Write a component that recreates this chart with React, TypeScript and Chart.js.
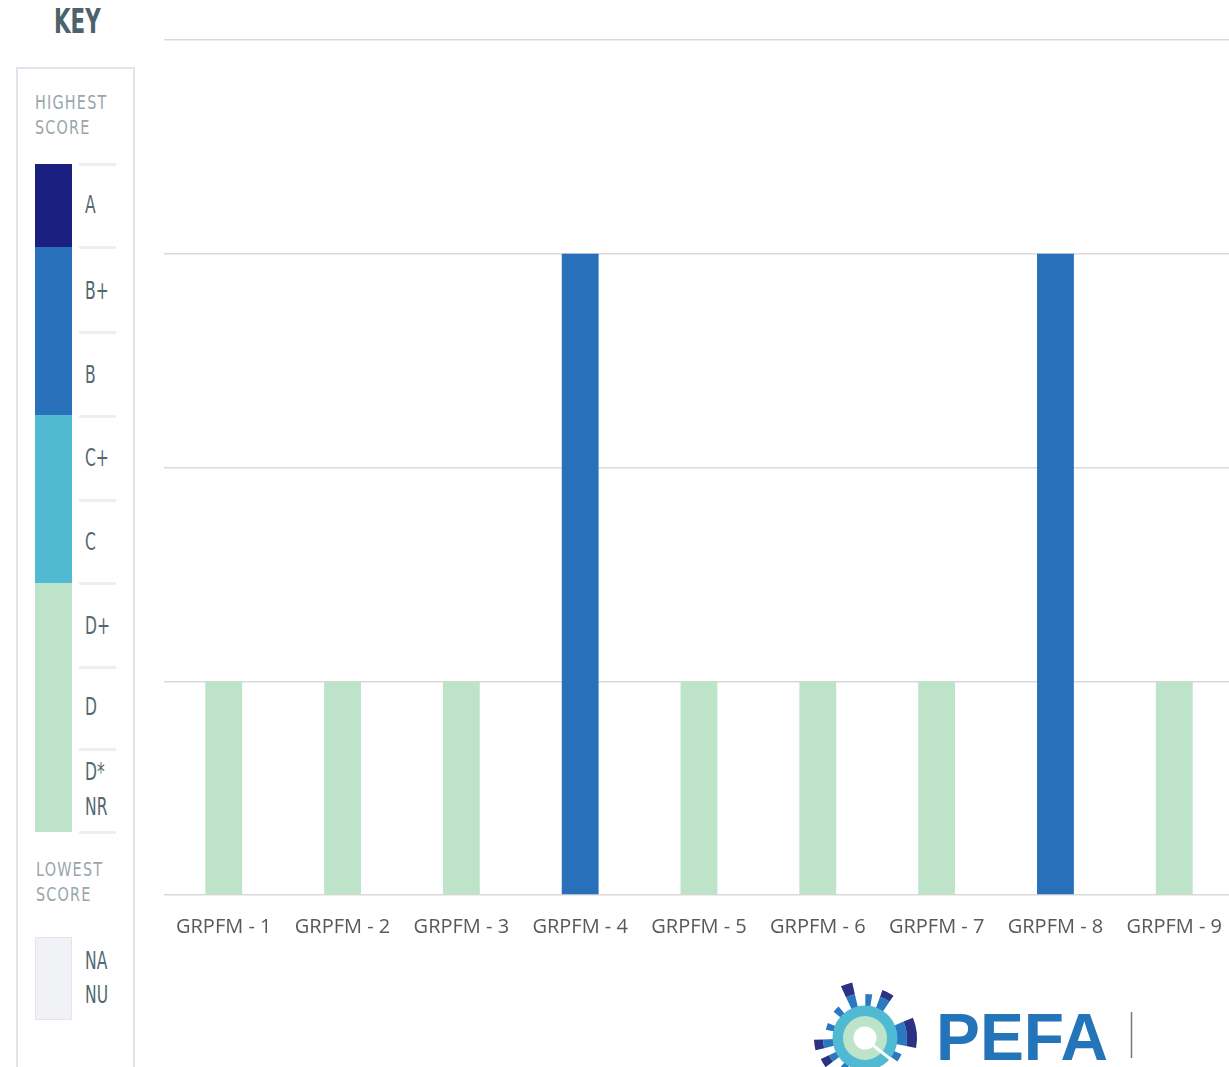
import React, { useEffect, useRef } from "react";
import { Chart, registerables } from "chart.js";

Chart.register(...registerables);

const categories = ["GRPFM - 1", "GRPFM - 2", "GRPFM - 3", "GRPFM - 4", "GRPFM - 5", "GRPFM - 6", "GRPFM - 7", "GRPFM - 8", "GRPFM - 9"];
// score scale: 1 = D, 2 = C, 3 = B, 4 = A
const scores = [1, 1, 1, 3, 1, 1, 1, 3, 1];
const scoreColors: Record<number, string> = { 1: "#bde3c8", 2: "#4fbad2", 3: "#2870b9", 4: "#1b2080" };
const yTicks = [0, 1, 2, 3, 4];

const keyLabels = [
  { t: "A", y: 205 },
  { t: "B+", y: 291 },
  { t: "B", y: 375 },
  { t: "C+", y: 458 },
  { t: "C", y: 542 },
  { t: "D+", y: 626 },
  { t: "D", y: 707 },
  { t: "D*", y: 772 },
  { t: "NR", y: 807 },
];
const keyLines = [164, 247, 332, 416, 500, 583, 667, 749, 832];
const keySegments = [
  { top: 164, bottom: 247, color: "#1b2080" },
  { top: 247, bottom: 415, color: "#2870b9" },
  { top: 415, bottom: 583, color: "#4fbad2" },
  { top: 583, bottom: 832, color: "#bde3c8" },
];

function CText(props: { x: number; y: number; size: number; color: string; bold?: boolean; sx?: number; ls?: number; children: React.ReactNode }) {
  const { x, y, size, color, bold, sx = 0.8, ls = 0 } = props;
  return (
    <div
      style={{
        position: "absolute",
        left: x,
        top: y,
        fontFamily: "'DejaVu Sans Condensed', 'DejaVu Sans', sans-serif",
        fontSize: size,
        fontWeight: bold ? 700 : 400,
        color,
        letterSpacing: ls,
        lineHeight: 1,
        whiteSpace: "nowrap",
        transform: `scaleX(${sx})`,
        transformOrigin: "left top",
      }}
    >
      {props.children}
    </div>
  );
}

function sector(cx: number, cy: number, r1: number, r2: number, a1: number, a2: number) {
  const rad = (a: number) => (a * Math.PI) / 180;
  const p = (r: number, a: number) => [cx + r * Math.cos(rad(a)), cy - r * Math.sin(rad(a))];
  const [x1, y1] = p(r2, a1);
  const [x2, y2] = p(r2, a2);
  const [x3, y3] = p(r1, a2);
  const [x4, y4] = p(r1, a1);
  const large = Math.abs(a2 - a1) > 180 ? 1 : 0;
  return `M${x1},${y1} A${r2},${r2} 0 ${large} 0 ${x2},${y2} L${x3},${y3} A${r1},${r1} 0 ${large} 1 ${x4},${y4} Z`;
}

const rays = [
  { a: 109, w: 12, mid: 45, out: 57 },
  { a: 85, w: 9, mid: 44, out: 44 },
  { a: 63, w: 14, mid: 44, out: 51 },
  { a: 6, w: 34, mid: 42, out: 52 },
  { a: -30, w: 12, mid: 40, out: 40 },
  { a: 188, w: 12, mid: 42, out: 51 },
  { a: 163, w: 10, mid: 40, out: 40 },
  { a: 135, w: 10, mid: 41, out: 41 },
  { a: 211, w: 11, mid: 40, out: 49 },
  { a: 235, w: 10, mid: 40, out: 40 },
  { a: 262, w: 10, mid: 42, out: 50 },
];

function Logo() {
  const cx = 865;
  const cy = 1038;
  return (
    <svg width={1229} height={1067} style={{ position: "absolute", left: 0, top: 0, pointerEvents: "none" }}>
      {rays.map((r, i) => (
        <g key={i}>
          <path d={sector(cx, cy, 30, r.mid, r.a - r.w / 2, r.a + r.w / 2)} fill="#2a78c0" />
          {r.out > r.mid && <path d={sector(cx, cy, r.mid, r.out, r.a - r.w / 2, r.a + r.w / 2)} fill="#2b3183" />}
        </g>
      ))}
      <circle cx={cx} cy={cy} r={32.5} fill="#4fbad2" />
      <circle cx={cx} cy={cy} r={22} fill="#bde3c8" />
      <circle cx={cx} cy={cy} r={11.5} fill="#ffffff" />
      <line x1={cx + 5} y1={cy + 5} x2={cx + 42} y2={cy + 34} stroke="#ffffff" strokeWidth={3} />
      <line x1={cx - 20} y1={cy - 27} x2={cx - 36} y2={cy - 48} stroke="#ffffff" strokeWidth={3} />
      <text x={936} y={1060} fill="#2474b9" fontFamily="'Liberation Sans', Arial, sans-serif" fontWeight={700} fontSize={66} textLength={172} lengthAdjust="spacingAndGlyphs">
        PEFA
      </text>
      <line x1={1131.5} y1={1012} x2={1131.5} y2={1058} stroke="#777" strokeWidth={1.5} />
    </svg>
  );
}

function Key() {
  return (
    <>
      <CText x={54} y={5} size={33} color="#4d626b" bold sx={0.72}>KEY</CText>
      <div style={{ position: "absolute", left: 16, top: 67, width: 119, height: 1100, border: "2px solid #e1e4ea", boxSizing: "border-box" }} />
      <CText x={35} y={92} size={20} color="#9aa6ac" sx={0.8} ls={1.5}>HIGHEST</CText>
      <CText x={35} y={117} size={20} color="#9aa6ac" sx={0.8} ls={1.5}>SCORE</CText>
      {keySegments.map((s, i) => (
        <div key={i} style={{ position: "absolute", left: 35, top: s.top, width: 37, height: s.bottom - s.top, background: s.color }} />
      ))}
      {keyLines.map((y, i) => (
        <div key={i} style={{ position: "absolute", left: 79, top: y - 1, width: 37, height: 3, background: "#eceef2" }} />
      ))}
      {keyLabels.map((l, i) => (
        <CText key={i} x={85} y={l.y - 12} size={24} color="#55686f" sx={0.72}>{l.t}</CText>
      ))}
      <CText x={36} y={859} size={20} color="#9aa6ac" sx={0.8} ls={1.5}>LOWEST</CText>
      <CText x={36} y={884} size={20} color="#9aa6ac" sx={0.8} ls={1.5}>SCORE</CText>
      <div style={{ position: "absolute", left: 35, top: 937, width: 37, height: 83, background: "#f1f2f6", border: "1px solid #e3e5ea", boxSizing: "border-box" }} />
      <CText x={85} y={949} size={24} color="#55686f" sx={0.72}>NA</CText>
      <CText x={85} y={983} size={24} color="#55686f" sx={0.72}>NU</CText>
    </>
  );
}

export default function App() {
  const ref = useRef<HTMLCanvasElement | null>(null);
  useEffect(() => {
    if (!ref.current) return;
    const chart = new Chart(ref.current, {
      type: "bar",
      data: {
        labels: categories,
        datasets: [
          {
            data: scores,
            backgroundColor: scores.map((s) => scoreColors[s]),
            borderWidth: 0,
            barPercentage: 0.62,
            categoryPercentage: 0.5,
          },
        ],
      },
      options: {
        animation: false,
        responsive: false,
        maintainAspectRatio: false,
        layout: { padding: { top: 40, left: 0, right: 0, bottom: 0 } },
        plugins: { legend: { display: false }, tooltip: { enabled: false } },
        scales: {
          x: {
            grid: { display: false },
            border: { display: false },
            ticks: {
              color: "#595959",
              font: { family: "'Open Sans', sans-serif", size: 20 },
              padding: 12,
              maxRotation: 0,
              autoSkip: false,
            },
            afterFit: (s: any) => {
              s.height = 65;
            },
          },
          y: {
            min: 0,
            max: 4,
            afterBuildTicks: (s: any) => {
              s.ticks = yTicks.map((v) => ({ value: v }));
            },
            grid: { color: "#d9d9d9", lineWidth: 1.5, drawTicks: false },
            border: { display: false },
            ticks: { display: false },
            afterFit: (s: any) => {
              s.width = 0;
            },
          },
        },
      },
    });
    return () => chart.destroy();
  }, []);

  return (
    <div style={{ position: "absolute", left: 0, top: 0, width: 1229, height: 1067, overflow: "hidden", background: "#fff" }}>
      <Key />
      <canvas ref={ref} width={1070} height={960} style={{ position: "absolute", left: 164, top: 0, width: 1070, height: 960 }} />
      <Logo />
    </div>
  );
}
